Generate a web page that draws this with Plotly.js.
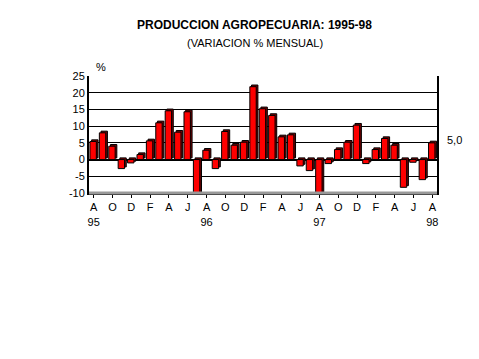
<!DOCTYPE html>
<html>
<head>
<meta charset="utf-8">
<script src="https://cdn.plot.ly/plotly-3.0.1.min.js"></script>
<style>
html,body{margin:0;padding:0;background:#fff;}
#chart{width:479px;height:359px;}
</style>
</head>
<body>
<div id="chart"></div>
<script>
// Months Aug 1995 .. Aug 1998
const months = ["A","S","O","N","D","E","F","M","A","M","J","J",
                "A","S","O","N","D","E","F","M","A","M","J","J",
                "A","S","O","N","D","E","F","M","A","M","J","J","A"];
const years = ["95","","","","","","","","","","","",
               "96","","","","","","","","","","","",
               "97","","","","","","","","","","","","98"];
const values = [5.4, 8.0, 4.0, -2.7, -1.0, 1.5, 5.6, 11.0, 14.6, 8.2, 14.3, -10.5,
                2.8, -2.7, 8.4, 4.3, 5.2, 21.8, 15.2, 13.2, 6.8, 7.4, -1.9, -3.3,
                -10.5, -1.2, 3.0, 5.2, 10.3, -1.2, 3.0, 6.3, 4.3, -8.3, -0.8, -6.0, 5.0];
const yTickVals = [-10, -5, 0, 5, 10, 15, 20, 25];
const yTickText = ["-10", "-5", "0", "5", "10", "15", "20", "25"];
const lastLabel = "5,0";

const xs = values.map((v, i) => i);
const tickVals = xs.filter(i => i % 2 === 0);
const tickText = tickVals.map(i => months[i] + "<br>" + (years[i] || " "));

const shadow = {
  type: "bar", x: xs, y: values, base: values.map(() => 0.5),
  width: 0.68, offset: -0.22,
  marker: {color: "#7a0000", line: {color: "#000", width: 1}},
  hoverinfo: "skip"
};
const front = {
  type: "bar", x: xs, y: values,
  width: 0.68, offset: -0.4,
  marker: {color: "#ff0000", line: {color: "#000", width: 1}}
};

const layout = {
  width: 479, height: 359,
  margin: {l: 89, r: 42, t: 76, b: 166},
  paper_bgcolor: "#fff", plot_bgcolor: "#fff",
  showlegend: false, barmode: "overlay",
  font: {family: "Liberation Sans, Arial, sans-serif", color: "#000", size: 11},
  xaxis: {
    range: [-0.5, 36.5], tickmode: "array", tickvals: tickVals, ticktext: tickText,
    showgrid: false, zeroline: false, ticks: "outside", ticklen: 3, tickcolor: "#000",
    showline: true, linecolor: "#000", linewidth: 2, mirror: false,
    tickfont: {size: 11}, fixedrange: true
  },
  yaxis: {
    range: [-10, 25], tickmode: "array", tickvals: yTickVals, ticktext: yTickText,
    showgrid: true, gridcolor: "#000", gridwidth: 1,
    zeroline: true, zerolinecolor: "#000", zerolinewidth: 2,
    showline: true, linecolor: "#000", linewidth: 2, mirror: true,
    ticks: "", tickfont: {size: 11}, fixedrange: true
  },
  shapes: [
    {type: "line", xref: "paper", yref: "paper", x0: 0, x1: 1, y0: 0, y1: 0,
     line: {color: "#999", width: 3}}
  ],
  annotations: [
    {xref: "paper", yref: "paper", x: 0.477, y: 1, yshift: 51, text: "<b>PRODUCCION AGROPECUARIA: 1995-98</b>",
     showarrow: false, font: {size: 12}, xanchor: "center", yanchor: "middle"},
    {xref: "paper", yref: "paper", x: 0.477, y: 1, yshift: 33, text: "(VARIACION % MENSUAL)",
     showarrow: false, font: {size: 11}, xanchor: "center", yanchor: "middle"},
    {xref: "paper", yref: "paper", x: 0.035, y: 1, yshift: 9, text: "%",
     showarrow: false, font: {size: 11}, xanchor: "center", yanchor: "middle"},
    {xref: "paper", yref: "y", x: 1, xshift: 8, y: 5, yshift: 3, text: lastLabel,
     showarrow: false, font: {size: 11}, xanchor: "left", yanchor: "middle"}
  ]
};

Plotly.newPlot("chart", [shadow, front], layout, {displayModeBar: false, staticPlot: true});
</script>
</body>
</html>
